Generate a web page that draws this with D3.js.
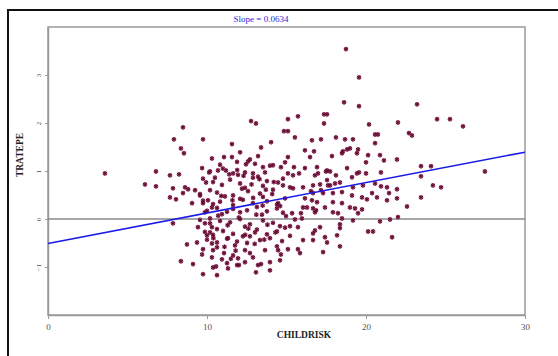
<!DOCTYPE html>
<html>
<head>
<meta charset="utf-8">
<script src="https://cdn.jsdelivr.net/npm/d3@7"></script>
<style>
  body { margin: 0; background: #fff; }
  svg { display: block; }
</style>
</head>
<body>
<svg id="chart" width="558" height="356"></svg>
<script>
// CHILDRISK values
const CHILDRISK = [
  3.58, 6.10, 6.79, 6.79, 7.67, 8.24, 8.49, 7.92, 9.75, 8.36, 8.55, 10.31, 7.86, 7.67, 8.05, 8.49, 8.62, 8.81, 9.25, 9.69,
  10.13, 9.94, 9.06, 9.56, 9.75, 10.06, 10.31, 9.87, 7.86, 9.43, 10.19, 9.87, 10.19, 10.00, 10.31, 8.74, 9.37, 9.75, 9.69, 10.31,
  8.36, 9.12, 9.75, 10.38, 10.63, 10.57, 11.32, 11.26, 11.89, 12.01, 13.08, 13.21, 13.40, 12.89, 10.31, 10.94, 10.38, 11.07, 11.64, 12.39,
  13.65, 14.40, 14.47, 12.77, 13.08, 15.09, 15.72, 14.84, 15.09, 15.53, 14.03, 13.40, 11.57, 12.08, 11.07, 11.57, 12.70, 13.21, 15.09, 12.58,
  12.45, 10.19, 10.69, 11.19, 11.64, 12.39, 12.89, 13.52, 13.65, 14.15, 18.74, 19.56, 18.62, 19.56, 23.21, 17.36, 17.55, 17.36, 20.19, 22.01,
  24.47, 25.28, 26.10, 20.57, 20.75, 22.70, 22.89, 20.57, 16.60, 17.17, 18.11, 18.68, 19.18, 16.16, 16.73, 16.48, 17.86, 18.55, 18.81, 18.99,
  18.49, 19.50, 19.43, 20.13, 20.88, 20.00, 21.13, 21.95, 14.65, 15.47, 16.16, 16.92, 15.09, 15.79, 16.98, 17.48, 17.74, 18.11, 18.81, 19.43,
  19.56, 20.00, 20.94, 23.46, 24.09, 23.46, 27.48, 19.12, 16.79, 17.55, 17.61, 16.67, 16.04, 18.05, 18.36, 19.18, 19.81, 20.57, 20.38, 19.75,
  19.12, 18.49, 17.92, 17.30, 16.67, 16.16, 16.60, 16.92, 17.92, 18.49, 20.06, 20.69, 16.04, 16.29, 16.67, 16.79, 17.42, 17.92, 18.24, 18.99,
  19.31, 19.75, 19.50, 18.49, 19.18, 20.88, 15.97, 20.13, 20.44, 18.36, 18.36, 17.11, 16.79, 16.67, 16.04, 16.67, 17.42, 17.55, 18.18, 17.30,
  18.36, 15.85, 15.72, 15.09, 14.72, 14.65, 15.22, 15.72, 14.59, 24.21, 24.72, 23.46, 22.58, 21.32, 21.95, 21.45, 21.32, 21.95, 22.01, 21.51,
  21.64, 20.94, 17.55, 14.78, 15.41, 16.54, 17.17, 17.74, 17.11, 16.86, 15.91, 15.35, 14.97, 15.53, 14.47,
  9.75, 10.38, 11.45, 12.08, 12.89, 13.77, 14.47,
  9.56, 10.19, 10.63, 11.64, 12.58, 13.33, 14.15,
  9.75, 10.38, 10.82, 11.64, 12.26, 12.89, 13.77, 14.40,
  10.00, 10.63, 11.26, 11.64, 12.52, 13.14, 13.77, 14.40,
  9.56, 10.19, 10.82, 11.45, 12.08, 12.70, 13.52, 14.15,
  9.87, 10.38, 11.01, 11.64, 12.26, 13.02, 13.77, 14.40,
  10.00, 10.63, 11.26, 11.89, 12.52, 13.33,
  10.63, 11.76, 11.32,
  10.82, 11.89, 13.02, 13.96, 14.91,
  10.50, 11.95, 13.21, 14.78, 15.41,
  10.94, 12.39, 13.52, 15.22,
  11.13, 12.08, 13.52, 14.91,
  10.94, 12.08, 13.46, 14.78,
  10.63, 12.39, 13.14, 14.91,
  12.70, 13.96, 15.22,
  12.39, 13.96,
  11.95, 14.59, 13.96,
  11.0, 11.4, 11.9, 12.3, 12.8, 13.3, 13.7, 14.2, 10.9, 11.6, 12.2, 12.9, 13.5, 14.1, 10.7,
  11.3, 12.0, 12.6, 13.1, 13.8, 14.6, 11.1, 11.8, 12.4, 13.0, 13.6, 10.4, 11.5, 12.7, 14.3
];

// TRATEPE values, same order as CHILDRISK
const TRATEPE = [
  0.95, 0.72, 0.99, 0.68, 0.91, 0.93, 1.91, 1.66, 1.66, 1.47, 1.37, 1.26, 0.64, 0.45, 0.41, 0.54, 0.66, 0.62, 0.60, 1.06,
  0.97, 0.76, 0.33, 0.49, 0.33, 0.39, 0.24, 0.14, -0.09, -0.17, 0.01, -0.09, -0.28, -0.34, -0.17, -0.53, -0.49, -0.63, -0.74, -0.51,
  -0.88, -0.94, -1.15, -1.01, -1.17, -0.99, -1.03, -0.92, -0.96, -0.96, -1.11, -0.96, -0.94, -0.80, -0.80, -0.84, -0.65, -0.71, -0.76, -0.65,
  -0.65, -0.57, -0.65, 2.04, 1.99, 2.08, 2.14, 1.83, 1.83, 1.70, 1.60, 1.49, 1.56, 1.39, 1.29, 1.29, 1.24, 1.31, 1.29, 1.20,
  1.14, 0.99, 1.01, 1.01, 0.95, 0.97, 0.95, 1.08, 0.97, 1.12, 3.54, 2.95, 2.43, 2.35, 2.39, 2.18, 2.18, 1.99, 1.97, 2.01,
  2.08, 2.08, 1.93, 1.76, 1.76, 1.79, 1.74, 1.58, 1.64, 1.66, 1.70, 1.66, 1.66, 1.43, 1.41, 1.29, 1.31, 1.41, 1.45, 1.47,
  1.37, 1.45, 1.37, 1.33, 1.33, 1.18, 1.22, 1.24, 1.08, 1.08, 1.06, 1.08, 0.95, 0.95, 0.95, 0.99, 0.99, 0.91, 1.06, 0.95,
  0.97, 0.95, 0.97, 1.10, 1.10, 0.89, 0.99, 0.87, 0.91, 0.81, 0.70, 0.70, 0.66, 0.74, 0.76, 0.66, 0.70, 0.74, 0.54, 0.45,
  0.49, 0.56, 0.54, 0.54, 0.54, 0.43, 0.39, 0.35, 0.35, 0.33, 0.41, 0.45, 0.24, 0.24, 0.22, 0.14, 0.24, 0.14, 0.12, 0.24,
  0.22, 0.20, 0.12, 0.01, -0.03, -0.05, 0.01, -0.26, -0.26, -0.11, -0.19, -0.17, -0.24, -0.30, -0.44, -0.44, -0.38, -0.49, -0.34, -0.69,
  -0.57, -0.71, -0.63, -0.63, -0.46, -0.74, -0.15, -0.17, -0.15, 0.70, 0.66, 0.45, 0.26, 0.66, 0.62, 0.54, 0.39, 0.43, 0.04, -0.01,
  -0.38, 0.68, 1.01, 0.70, 0.64, 0.58, 0.60, 0.70, 0.72, 0.18, 0.12, 0.12, 0.06, -0.01, 0.33,
  0.84, 0.77, 0.82, 0.74, 0.86, 0.79, 0.76,
  0.52, 0.60, 0.55, 0.49, 0.58, 0.53, 0.61,
  0.38, 0.31, 0.36, 0.29, 0.40, 0.33, 0.37, 0.30,
  0.17, 0.23, 0.15, 0.21, 0.18, 0.25, 0.16, 0.22,
  -0.02, -0.09, -0.04, -0.07, 0.00, -0.11, -0.03, -0.08,
  -0.27, -0.33, -0.25, -0.31, -0.36, -0.28, -0.32, -0.26,
  -0.43, -0.49, -0.41, -0.47, -0.50, -0.44,
  -0.59, -0.55, -0.40,
  1.13, 1.19, 1.15, 1.11, 1.18,
  0.86, 0.92, 0.88, 0.84, 0.91,
  0.71, 0.65, 0.69, 0.66,
  0.47, 0.42, 0.46, 0.43,
  0.10, 0.14, 0.09, 0.13,
  -0.21, -0.16, -0.22, -0.18,
  -0.36, -0.40, -0.35,
  -0.90, -0.90,
  -0.82, -0.86, -1.07,
  1.05, 0.93, 1.02, 0.90, 0.72, 0.83, 0.61, 0.77, 0.48, 0.39, 0.63, 0.44, 0.28, 0.52, 0.07,
  -0.13, 0.03, -0.20, 0.09, -0.12, 0.27, -0.58, -0.66, -0.33, -0.52, -0.43, -0.40, -0.83, -0.71, -0.28
];

// fitted line
const INTERCEPT = -0.51;
const SLOPE = 0.0634;
const LINE_X = [0, 30];

const X_TICKS = [0, 10, 20, 30];
const Y_TICKS = [-1, 0, 1, 2, 3];

const TITLE = "Slope = 0.0634";
const X_LABEL = "CHILDRISK";
const Y_LABEL = "TRATEPE";

function drawChart() {
  const svg = d3.select("#chart");

  const left = 48, right = 525, top = 27, bottom = 315;

  const xScale = d3.scaleLinear().domain([0, 30]).range([left, right]);
  const yScale = d3.scaleLinear().domain([-2, 4]).range([bottom, top]);

  // outer frame (only top and left edges are inside the picture)
  svg.append("rect")
    .attr("x", 8).attr("y", 10)
    .attr("width", 620).attr("height", 400)
    .attr("fill", "none")
    .attr("stroke", "#111")
    .attr("stroke-width", 2);

  // plot box
  svg.append("rect")
    .attr("x", left).attr("y", top)
    .attr("width", right - left).attr("height", bottom - top)
    .attr("fill", "none")
    .attr("stroke", "#9a9a9a")
    .attr("stroke-width", 1.5);

  // x axis
  const xAxis = svg.append("g")
    .attr("transform", `translate(0, ${bottom})`)
    .call(d3.axisBottom(xScale).tickValues(X_TICKS).tickFormat(d3.format("d")).tickSize(4).tickSizeOuter(0));
  xAxis.select(".domain").attr("stroke", "#9a9a9a").attr("stroke-width", 1.5);
  xAxis.selectAll(".tick line").attr("stroke", "#9a9a9a");
  xAxis.selectAll(".tick text")
    .attr("font-family", "'Liberation Serif', serif")
    .attr("font-size", 9)
    .attr("fill", "#555")
    .attr("dy", "0.9em");

  // y axis, labels turned sideways
  const yAxis = svg.append("g")
    .attr("transform", `translate(${left}, 0)`)
    .call(d3.axisLeft(yScale).tickValues(Y_TICKS).tickFormat(d3.format("d")).tickSize(3).tickSizeOuter(0));
  yAxis.select(".domain").attr("stroke", "#9a9a9a").attr("stroke-width", 1.5);
  yAxis.selectAll(".tick line").attr("stroke", "#9a9a9a");
  yAxis.selectAll(".tick text")
    .attr("font-family", "'Liberation Serif', serif")
    .attr("font-size", 7)
    .attr("fill", "#555")
    .attr("x", null).attr("dy", null)
    .attr("text-anchor", "middle")
    .attr("transform", "translate(-7, 0) rotate(-90)");

  // zero line
  svg.append("line")
    .attr("x1", left).attr("x2", right)
    .attr("y1", yScale(0)).attr("y2", yScale(0))
    .attr("stroke", "#8a8a8a")
    .attr("stroke-width", 1.3);

  // points
  const points = CHILDRISK.map((x, i) => ({x: x, y: TRATEPE[i]}));
  const dots = svg.append("g");
  dots.selectAll("circle")
    .data(points)
    .enter()
    .append("circle")
    .attr("cx", (d) => xScale(d.x))
    .attr("cy", (d) => yScale(d.y))
    .attr("r", 2.4)
    .attr("fill", "#a8476f")
    .attr("fill-opacity", 0.85);
  dots.selectAll("path")
    .data(points)
    .enter()
    .append("path")
    .attr("d", d3.symbol(d3.symbolAsterisk, 14))
    .attr("transform", (d) => `translate(${xScale(d.x)}, ${yScale(d.y)})`)
    .attr("stroke", "#5c0a30")
    .attr("stroke-width", 1)
    .attr("fill", "none");

  // regression line
  svg.append("line")
    .attr("x1", xScale(LINE_X[0])).attr("y1", yScale(INTERCEPT + SLOPE * LINE_X[0]))
    .attr("x2", xScale(LINE_X[1])).attr("y2", yScale(INTERCEPT + SLOPE * LINE_X[1]))
    .attr("stroke", "#1a1ae6")
    .attr("stroke-width", 1.6);

  // title
  svg.append("text")
    .attr("x", 261).attr("y", 22)
    .attr("text-anchor", "middle")
    .attr("font-family", "'Liberation Serif', serif")
    .attr("font-size", 9)
    .attr("fill", "#2a2ad8")
    .text(TITLE);

  // axis titles
  svg.append("text")
    .attr("x", 304).attr("y", 338)
    .attr("text-anchor", "middle")
    .attr("font-family", "'Liberation Serif', serif")
    .attr("font-weight", "bold")
    .attr("font-size", 9.5)
    .attr("fill", "#222")
    .text(X_LABEL);

  svg.append("text")
    .attr("transform", "translate(23, 155) rotate(-90)")
    .attr("text-anchor", "middle")
    .attr("font-family", "'Liberation Serif', serif")
    .attr("font-weight", "bold")
    .attr("font-size", 9.5)
    .attr("fill", "#222")
    .text(Y_LABEL);
}

drawChart();
</script>
</body>
</html>
